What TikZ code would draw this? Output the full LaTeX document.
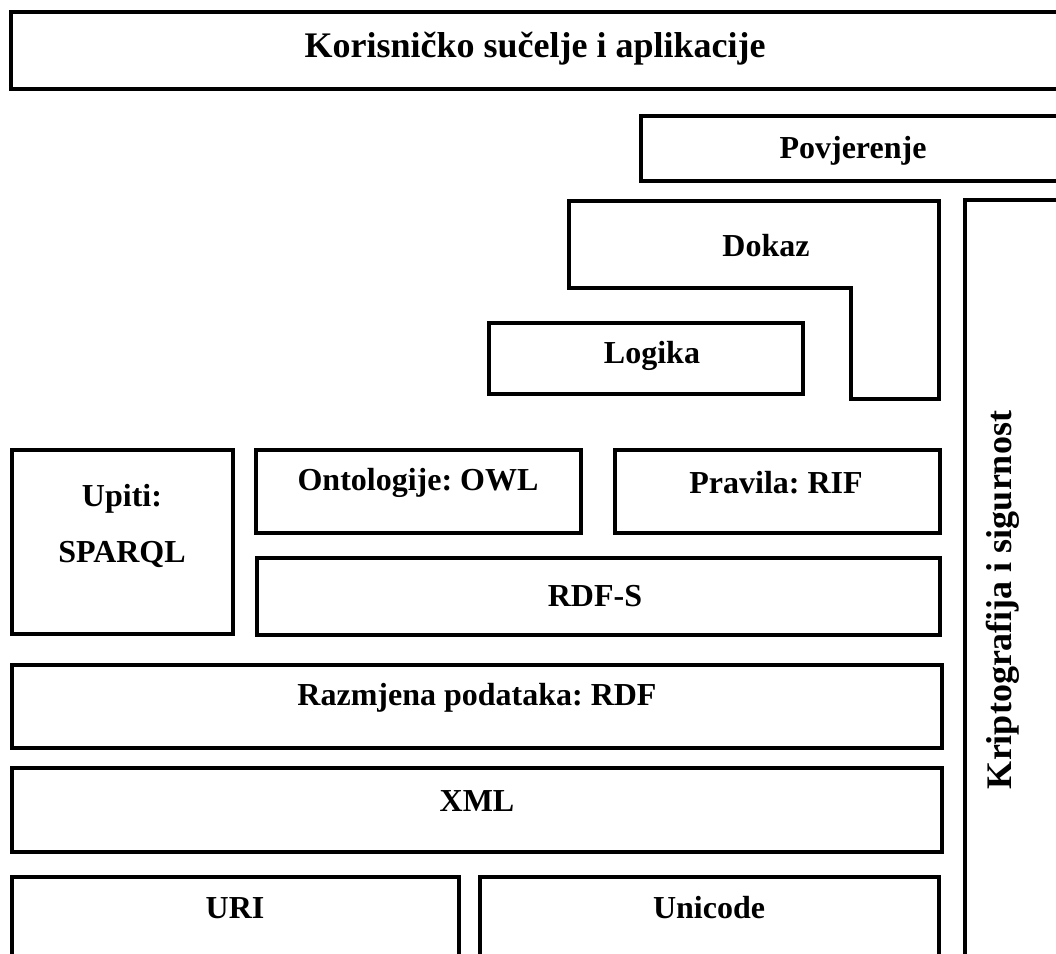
\documentclass[tikz,border=0pt]{standalone}
\usepackage{fontspec}
\setmainfont{Liberation Serif}
\frenchspacing
\begin{document}
\begin{tikzpicture}[x=0.5pt,y=-0.5pt,
  box/.style={draw=black,line width=2pt},
  lbl/.style={font=\fontsize{16}{19}\selectfont\bfseries,inner sep=0pt,align=center},
  biglbl/.style={font=\fontsize{18}{21}\selectfont\bfseries,inner sep=0pt,align=center}]
\useasboundingbox (0,0) rectangle (1056,954);
\clip (0,0) rectangle (1056,954);
% layers
\draw[box] (11,12) rectangle (1090,89);
\draw[box] (641,116) rectangle (1090,181);
\draw[box] (569,201) -- (939,201) -- (939,399) -- (851,399) -- (851,288) -- (569,288) -- cycle;
\draw[box] (489,323) rectangle (803,394);
\draw[box] (965,200) rectangle (1090,1000);
\draw[box] (12,450) rectangle (233,634);
\draw[box] (256,450) rectangle (581,533);
\draw[box] (615,450) rectangle (940,533);
\draw[box] (257,558) rectangle (940,635);
\draw[box] (12,665) rectangle (942,748);
\draw[box] (12,768) rectangle (942,852);
\draw[box] (12,877) rectangle (459,1000);
\draw[box] (480,877) rectangle (939,1000);
% labels
\node[biglbl] (ui) at (535,49) {Korisničko sučelje i aplikacije};
\node[lbl] (trust) at (853,151) {Povjerenje};
\node[lbl] (proof) at (766,246) {Dokaz};
\node[lbl] (logic) at (652,356) {Logika};
\node[lbl] (query) at (122,526) {Upiti:\\[9pt]SPARQL};
\node[lbl] (onto) at (418,483) {Ontologije: OWL};
\node[lbl] (rules) at (776,483) {Pravila: RIF};
\node[lbl] (rdfs) at (595,596) {RDF-S};
\node[lbl] (rdf) at (477,698) {Razmjena podataka: RDF};
\node[lbl] (xml) at (477,801) {XML};
\node[lbl] (uri) at (235,908) {URI};
\node[lbl] (unicode) at (709,908) {Unicode};
\node[biglbl,rotate=90] (crypto) at (1003,600) {Kriptografija i sigurnost};
\end{tikzpicture}
\end{document}
